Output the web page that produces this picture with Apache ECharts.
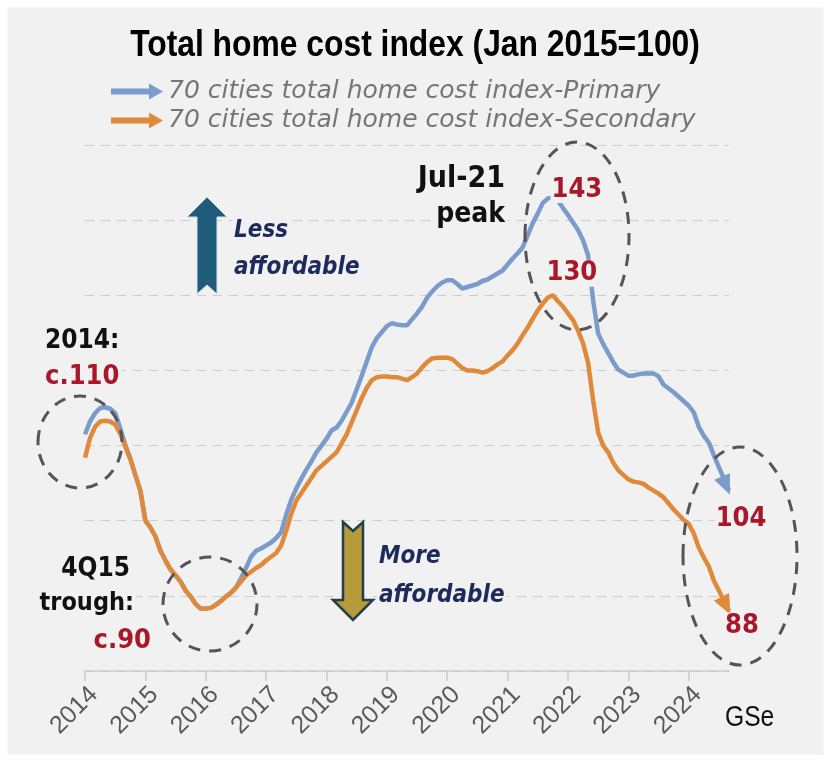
<!DOCTYPE html>
<html>
<head>
<meta charset="utf-8">
<script src="https://cdn.jsdelivr.net/npm/echarts@6/dist/echarts.min.js"></script>
<style>
  html, body { margin: 0; padding: 0; background: #ffffff; }
  #chart { width: 831px; height: 762px; }
</style>
</head>
<body>
<div id="chart"></div>
<script>
// Monthly index, Jan 2014 .. Sep 2024 (Jan 2015 = 100)
const startYear = 2014;
const yearTicks = ['2014','2015','2016','2017','2018','2019','2020','2021','2022','2023','2024'];

const primary = [
  111.5, 113.2, 114.3, 115.0, 115.1, 114.9, 114.3, 112.3, 110.1, 108.3, 106.1, 104.0,
  100.0, 99.1, 97.9, 96.0, 94.7, 93.5, 92.7, 91.9, 90.7, 89.9, 88.9, 88.3,
  88.3, 88.4, 88.8, 89.3, 89.9, 90.4, 91.1, 92.3, 93.7, 95.2, 96.0, 96.3,
  96.7, 97.1, 97.7, 98.5, 100.8, 102.8, 104.3, 105.6, 106.8, 107.9, 109.1, 110.0,
  110.9, 112.0, 112.4, 113.3, 114.5, 115.7, 117.5, 119.3, 121.2, 123.1, 124.3, 125.1,
  125.9, 126.3, 126.1, 126.0, 126.0, 126.8, 127.6, 128.5, 129.7, 130.5, 131.2, 131.7,
  132.0, 132.0, 131.5, 130.9, 131.1, 131.3, 131.5, 131.9, 132.1, 132.5, 132.9, 133.3,
  134.1, 134.9, 135.6, 136.4, 138.0, 139.6, 140.9, 142.3, 142.9, 143.0, 142.6, 141.6,
  140.7, 139.7, 138.7, 137.3, 135.3, 129.3, 124.9, 123.5, 122.3, 121.1, 120.1, 119.7,
  119.3, 119.3, 119.5, 119.6, 119.6, 119.6, 119.2, 118.1, 117.6, 117.1, 116.5, 115.9,
  115.3, 114.4, 112.5, 111.3, 110.4, 108.7, 107.1, 105.6, 104.0
];

const secondary = [
  108.4, 111.0, 112.5, 113.2, 113.3, 113.2, 112.8, 111.6, 109.9, 108.2, 106.1, 104.0,
  100.0, 99.1, 97.9, 96.0, 94.7, 93.5, 92.7, 91.9, 90.7, 89.9, 88.9, 88.3,
  88.3, 88.4, 88.8, 89.3, 89.9, 90.4, 91.1, 91.9, 92.7, 93.2, 93.7, 94.1,
  94.7, 95.2, 95.7, 96.7, 98.7, 100.9, 102.7, 103.7, 104.7, 105.7, 106.7, 107.3,
  107.9, 108.5, 109.1, 110.3, 111.5, 113.1, 114.7, 116.3, 117.7, 118.7, 119.1, 119.2,
  119.2, 119.1, 119.1, 118.9, 118.7, 119.1, 119.6, 120.4, 121.1, 121.6, 121.7, 121.7,
  121.7, 121.5, 120.9, 120.3, 120.0, 120.0, 119.9, 119.7, 119.9, 120.3, 120.8, 121.2,
  122.0, 122.7, 123.6, 124.7, 125.7, 126.9, 128.0, 128.9, 129.7, 130.0, 129.2, 128.5,
  127.6, 126.7, 125.3, 123.6, 121.0, 116.0, 111.7, 110.0, 109.1, 107.7, 106.7, 106.1,
  105.5, 105.2, 105.1, 104.9, 104.4, 104.0, 103.6, 103.1, 102.3, 101.5, 100.8, 100.1,
  99.6, 98.3, 96.4, 95.1, 93.9, 92.0, 90.7, 89.3, 88.0
];

const seriesNames = [
  '70 cities total home cost index-Primary',
  '70 cities total home cost index-Secondary'
];

const BLUE = '#7b9bcb';
const ORANGE = '#de8a3a';
const RED = '#a8172a';
const PANEL = '#f1f1f1';
const LABEL_FONT = '"DejaVu Sans Condensed", "DejaVu Sans", sans-serif';

const toPairs = arr => arr.map((v, i) => [startYear + i / 12, v]);
const lastIdx = primary.length - 1;
const xEnd = startYear + lastIdx / 12;
const peakP = primary.indexOf(Math.max(...primary));
const peakS = secondary.indexOf(Math.max(...secondary));

function valueLabel(offset) {
  return {
    show: true, formatter: '{c}', offset: offset,
    color: RED, fontFamily: LABEL_FONT, fontWeight: 'bold', fontSize: 27,
    backgroundColor: PANEL, padding: [0, 1]
  };
}

// text note on a panel-coloured box, drawn above the grid lines
function note(x, y, text, font, fill, align) {
  return {
    type: 'text', x: x, y: y, z: 20,
    style: { text: text, font: font, fill: fill, align: align || 'left',
      backgroundColor: PANEL, padding: [0, 2] }
  };
}

const chart = echarts.init(document.getElementById('chart'), null, { renderer: 'canvas' });

const arrowIcon = 'path://M0,5 L38,5 L38,0 L52,8 L38,16 L38,11 L0,11 Z';

chart.setOption({
  animation: false,
  backgroundColor: PANEL,
  legend: {
    orient: 'vertical',
    left: 106,
    top: 74,
    itemGap: 4,
    itemWidth: 52,
    itemHeight: 16,
    data: [
      { name: seriesNames[0], icon: arrowIcon, itemStyle: { color: BLUE } },
      { name: seriesNames[1], icon: arrowIcon, itemStyle: { color: ORANGE } }
    ],
    textStyle: {
      fontFamily: '"DejaVu Sans", sans-serif', fontStyle: 'italic',
      fontSize: 25, color: '#767676'
    }
  },
  grid: { left: 85, right: 102, top: 145, bottom: 91 },
  xAxis: {
    type: 'value',
    min: startYear,
    max: xEnd,
    interval: 1,
    axisLine: { lineStyle: { color: '#cccccc', width: 1.5 } },
    axisTick: { show: true, length: 10, lineStyle: { color: '#cccccc', width: 1.5 } },
    splitLine: { show: false },
    axisLabel: {
      rotate: 45, margin: 11, showMaxLabel: false, verticalAlign: 'top',
      fontFamily: '"Liberation Sans", sans-serif', fontSize: 25, color: '#5a5a5a',
      formatter: v => {
        const i = Math.round(v) - startYear;
        return Math.abs(v - Math.round(v)) < 1e-6 && yearTicks[i] ? yearTicks[i] : '';
      }
    }
  },
  yAxis: {
    type: 'value',
    min: 80, max: 150, interval: 10,
    axisLine: { show: false },
    axisTick: { show: false },
    axisLabel: { show: false },
    splitLine: { lineStyle: { color: '#cdcdcd', width: 1.2, type: [9, 7] } }
  },
  series: [
    {
      name: seriesNames[0],
      type: 'line',
      data: toPairs(primary),
      showSymbol: false,
      symbol: 'none',
      lineStyle: { color: BLUE, width: 4.5 },
      itemStyle: { color: BLUE },
      markPoint: {
        symbol: 'circle', symbolSize: 0, silent: true,
        data: [
          { coord: [startYear + peakP / 12, primary[peakP]], value: primary[peakP], label: valueLabel([24, -8]) },
          { coord: [xEnd, primary[lastIdx]], value: primary[lastIdx], label: valueLabel([12, 28]) },
          { coord: [xEnd, primary[lastIdx]], symbol: 'triangle', symbolSize: [17, 20],
            symbolRotate: 203, symbolOffset: [-3, -5], itemStyle: { color: BLUE }, label: { show: false } }
        ]
      }
    },
    {
      name: seriesNames[1],
      type: 'line',
      data: toPairs(secondary),
      showSymbol: false,
      symbol: 'none',
      lineStyle: { color: ORANGE, width: 4.5 },
      itemStyle: { color: ORANGE },
      markPoint: {
        symbol: 'circle', symbolSize: 0, silent: true,
        data: [
          { coord: [startYear + peakS / 12, secondary[peakS]], value: secondary[peakS], label: valueLabel([19, -22]) },
          { coord: [xEnd, secondary[lastIdx]], value: secondary[lastIdx], label: valueLabel([13, 15]) },
          { coord: [xEnd, secondary[lastIdx]], symbol: 'triangle', symbolSize: [17, 20],
            symbolRotate: 207, symbolOffset: [-3, -5], itemStyle: { color: ORANGE }, label: { show: false } }
        ]
      }
    }
  ],
  graphic: {
    elements: [
      // white frame around the panel
      { type: 'rect', shape: { x: 0, y: 0, width: 831, height: 762 }, z: 30,
        style: { fill: 'none', stroke: '#ffffff', lineWidth: 15 }, silent: true },

      // chart heading (condensed bold)
      { type: 'text', x: 415, y: 27, scaleX: 0.86, z: 20,
        style: { text: 'Total home cost index (Jan 2015=100)', align: 'center', verticalAlign: 'top',
          font: 'bold 37px "Liberation Sans", sans-serif', fill: '#000000' } },

      // dashed call-out ellipses
      { type: 'ellipse', shape: { cx: 80, cy: 442, rx: 42, ry: 46 }, z: 25,
        style: { fill: 'none', stroke: '#555555', lineWidth: 3, lineDash: [12, 9] } },
      { type: 'ellipse', shape: { cx: 210, cy: 604, rx: 47, ry: 47 }, z: 25,
        style: { fill: 'none', stroke: '#555555', lineWidth: 3, lineDash: [12, 9] } },
      { type: 'ellipse', shape: { cx: 577, cy: 236, rx: 52, ry: 94 }, z: 25,
        style: { fill: 'none', stroke: '#555555', lineWidth: 3, lineDash: [12, 9] } },
      { type: 'ellipse', shape: { cx: 740, cy: 556, rx: 57, ry: 109 }, z: 25,
        style: { fill: 'none', stroke: '#555555', lineWidth: 3, lineDash: [12, 9] } },

      // affordability arrows
      { type: 'polygon', z: 20,
        shape: { points: [[207,197],[227,217],[217,217],[217,294],[207,285],[197,294],[197,217],[187,217]] },
        style: { fill: '#1f5b7b', stroke: '#d6e2ea', lineWidth: 1 } },
      { type: 'polygon', z: 20,
        shape: { points: [[343,522],[353,531],[363,522],[363,600],[373,600],[353,620],[333,600],[343,600]] },
        style: { fill: '#b59b3a', stroke: '#23404a', lineWidth: 2.5 } },

      // annotation texts
      note(507, 164, 'Jul-21', 'bold 30px ' + LABEL_FONT, '#111111', 'right'),
      note(507, 201, 'peak', 'bold 28px ' + LABEL_FONT, '#111111', 'right'),
      note(43, 328, '2014:', 'bold 26px ' + LABEL_FONT, '#111111'),
      note(43, 363, 'c.110', 'bold 27px ' + LABEL_FONT, RED),
      note(132, 556, '4Q15', 'bold 26px ' + LABEL_FONT, '#111111', 'right'),
      note(136, 591, 'trough:', 'bold 25px ' + LABEL_FONT, '#111111', 'right'),
      note(153, 627, 'c.90', 'bold 27px ' + LABEL_FONT, RED, 'right'),
      note(232, 219, 'Less', 'italic bold 24px ' + LABEL_FONT, '#1d2b5c'),
      note(232, 256, 'affordable', 'italic bold 24px ' + LABEL_FONT, '#1d2b5c'),
      note(377, 545, 'More', 'italic bold 24px ' + LABEL_FONT, '#1d2b5c'),
      note(377, 584, 'affordable', 'italic bold 24px ' + LABEL_FONT, '#1d2b5c'),
      { type: 'text', x: 725, y: 703, scaleX: 0.85, z: 20,
        style: { text: 'GSe', font: '29px "Liberation Sans", sans-serif', fill: '#111111' } }
    ]
  }
});
</script>
</body>
</html>
